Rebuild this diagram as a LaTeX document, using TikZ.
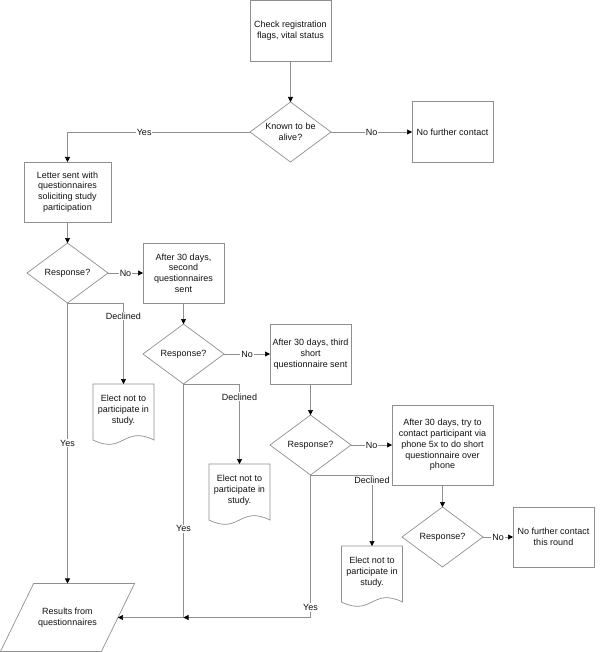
\documentclass[tikz,border=0pt]{standalone}
\usepackage{fontspec}
\setmainfont{Liberation Sans}
\usetikzlibrary{positioning, shapes.geometric, arrows.meta, calc}
\definecolor{cline}{HTML}{8F8F8F}
\definecolor{ctext}{HTML}{111111}

\begin{document}
\begin{tikzpicture}[
  x=1pt, y=-1pt,
  font=\fontsize{9}{10.7}\selectfont,
  every node/.append style={align=center, text=ctext},
  stepbox/.style={
    rectangle, draw=cline, line width=0.7pt,
    inner sep=0pt, outer sep=0pt,
    minimum width=81pt, minimum height=61pt
  },
  askbox/.style={
    diamond, aspect=1.35, draw=cline, line width=0.7pt,
    inner sep=0pt, outer sep=0pt,
    minimum width=81pt, minimum height=60pt
  },
  docbox/.style={
    rectangle, inner sep=0pt, outer sep=0pt,
    minimum width=61pt, minimum height=52pt
  },
  databox/.style={
    trapezium, trapezium left angle=64, trapezium right angle=116,
    draw=cline, line width=0.7pt,
    inner xsep=4.6pt, inner ysep=24.5pt, outer sep=0pt
  },
  flow/.style={
    draw=cline, line width=0.6pt,
    -{Triangle[color=black, fill=black, length=5pt, width=5pt]}
  },
  lbl/.style={fill=white, inner sep=1pt}
]
\useasboundingbox (0,0) rectangle (600,652);

% main column
\node[stepbox] (chk) at (290.5,30.5) {Check registration\\flags, vital status};
\node[askbox, below=41pt of chk] (alive) {Known to be\\alive?};
\node[stepbox, right=81pt of alive] (nofc) {No further contact};

\node[stepbox, minimum width=87pt, minimum height=60pt] (letter) at (67.5,192)
  {Letter sent with\\questionnaires\\soliciting study\\participation};
\node[askbox, below=21pt of letter] (resp1) {Response?};

\node[stepbox, minimum height=60pt, right=35pt of resp1] (sec)
  {After 30 days,\\second\\questionnaires\\sent};
\node[askbox, below=21pt of sec] (resp2) {Response?};

\node[stepbox, minimum height=60pt, right=46pt of resp2] (third)
  {After 30 days, third\\short\\questionnaire sent};
\node[askbox, below=31pt of third] (resp3) {Response?};

\node[stepbox, minimum width=101pt, minimum height=80pt, right=41pt of resp3] (phone)
  {After 30 days, try to\\contact participant via\\phone 5x to do short\\questionnaire over\\phone};
\node[askbox, below=22pt of phone] (resp4) {Response?};
\node[stepbox, minimum height=60pt, right=30pt of resp4] (final)
  {No further contact\\this round};

% declined documents
\node[docbox, anchor=north] (doc1) at (123.5,384) {Elect not to\\participate in\\study.};
\node[docbox, anchor=north] (doc2) at (239.5,464) {Elect not to\\participate in\\study.};
\node[docbox, anchor=north] (doc3) at (372,546) {Elect not to\\participate in\\study.};
\foreach \d in {doc1, doc2, doc3}
  \draw[cline, line width=0.7pt] (\d.north west) -- (\d.north east)
    -- ([yshift=-4pt]\d.south east)
    .. controls ([yshift=11pt]\d.south) and ([yshift=-19pt]\d.south) .. ([yshift=-4pt]\d.south west)
    -- cycle;

\node[databox] (results) at (67.5,617.5) {Results from\\questionnaires};
\coordinate (jn) at (resp2.south |- results.east);

% connectors
\draw[flow] (chk) -- (alive);
\draw[flow] (alive) -- node[lbl] {No} (nofc);
\draw[flow] (alive.west) -| node[lbl, pos=0.29] {Yes} (letter.north);
\draw[flow] (letter) -- (resp1);

\draw[flow] (resp1) -- node[lbl] {No} (sec);
\draw[flow] (resp1.south) -| node[lbl, pos=0.58] {Declined} (doc1.north);
\draw[flow] (resp1.south) -- node[lbl] {Yes} (results.north);

\draw[flow] (sec) -- (resp2);
\draw[flow] (resp2) -- node[lbl] {No} (third);
\draw[flow] (resp2.south) -| node[lbl, pos=0.58] {Declined} (doc2.north);
\draw[flow] (resp2.south) |- node[lbl, pos=0.31] {Yes} (results.east);

\draw[flow] (third) -- (resp3);
\draw[flow] (resp3) -- node[lbl] {No} (phone);
\draw[flow] (resp3.south) -| node[lbl, pos=0.54] {Declined} (doc3.north);
\draw[flow] (resp3.south) |- node[lbl, pos=0.465] {Yes} (jn);

\draw[flow] (phone) -- (resp4);
\draw[flow] (resp4) -- node[lbl] {No} (final);

\end{tikzpicture}
\end{document}
